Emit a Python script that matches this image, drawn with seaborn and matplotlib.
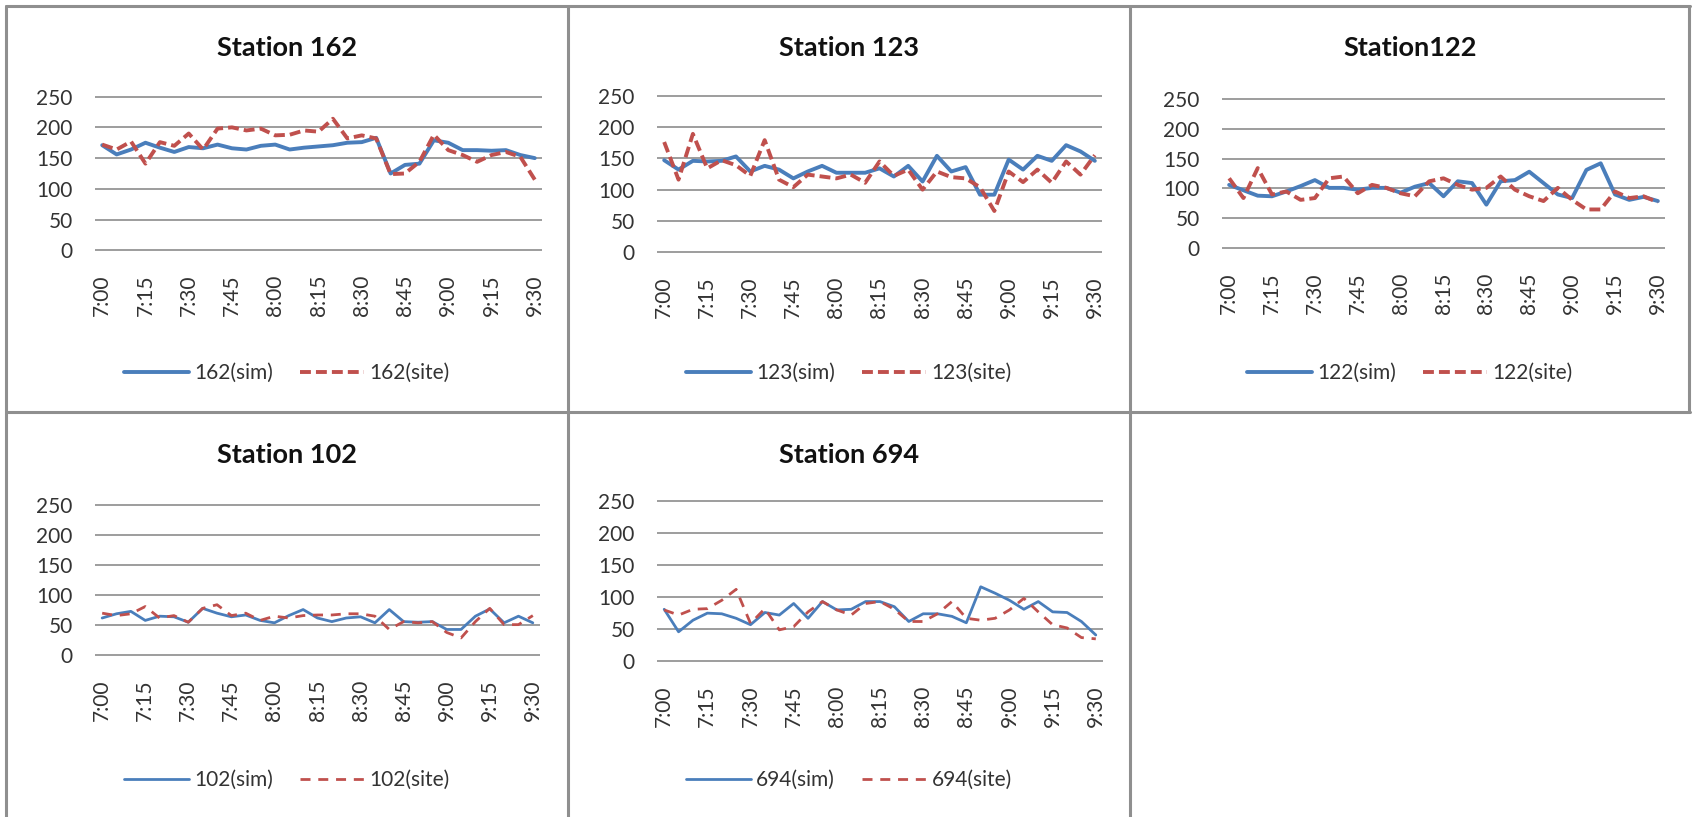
import numpy as np
import pandas as pd
import matplotlib
matplotlib.use("Agg")
import matplotlib.pyplot as plt
from matplotlib.lines import Line2D
import seaborn as sns

W, H = 1692, 817

# 5-minute slots from 7:00 to 9:30
SLOTS = np.arange(31)
TICK_POS = [0, 3, 6, 9, 12, 15, 18, 21, 24, 27, 30]
TICK_LABELS = ['7:00', '7:15', '7:30', '7:45', '8:00', '8:15',
               '8:30', '8:45', '9:00', '9:15', '9:30']
Y_TICKS = [0, 50, 100, 150, 200, 250]

STATIONS = ['162', '123', '122', '102', '694']
TITLES = ['Station 162', 'Station 123', 'Station122', 'Station 102', 'Station 694']

sim_162 = [171, 156, 164, 175, 167, 160, 168, 166, 172, 166, 164, 170, 172, 164, 167, 169,
           171, 175, 176, 183, 125, 139, 141, 179, 175, 163, 163, 162, 163, 155, 150]
site_162 = [172, 164, 177, 141, 176, 170, 190, 164, 198, 200, 195, 198, 187, 188, 195, 193,
            214, 182, 187, 182, 124, 125, 144, 188, 163, 155, 144, 155, 160, 152, 115]

sim_123 = [147, 132, 146, 145, 146, 153, 129, 138, 132, 118, 129, 138, 127, 127, 127, 134,
           121, 138, 113, 154, 129, 136, 92, 92, 148, 132, 154, 146, 171, 161, 146]
site_123 = [176, 116, 189, 134, 147, 139, 122, 179, 116, 104, 124, 121, 118, 124, 111, 145,
            122, 132, 100, 129, 120, 118, 104, 66, 129, 112, 132, 111, 145, 124, 155]

sim_122 = [106, 97, 88, 87, 95, 104, 114, 101, 101, 98, 101, 101, 93, 103, 109, 87,
           112, 109, 73, 112, 114, 128, 109, 90, 84, 131, 142, 90, 81, 86, 79]
site_122 = [117, 84, 134, 90, 95, 81, 84, 117, 120, 92, 106, 101, 92, 87, 112, 117,
            106, 98, 101, 120, 98, 87, 79, 101, 81, 65, 65, 95, 84, 87, 77]

sim_102 = [62, 69, 73, 58, 65, 64, 55, 78, 70, 64, 67, 58, 54, 66, 76, 62,
           56, 62, 64, 54, 76, 56, 55, 56, 43, 43, 65, 77, 54, 65, 54]
site_102 = [70, 66, 69, 81, 62, 66, 55, 78, 84, 66, 70, 58, 65, 62, 66, 67,
            67, 69, 69, 65, 43, 56, 54, 56, 38, 29, 56, 78, 51, 51, 66]

sim_694 = [81, 46, 64, 75, 74, 67, 57, 76, 72, 90, 67, 93, 80, 81, 93, 93,
           85, 62, 74, 74, 70, 60, 116, 106, 95, 81, 93, 77, 76, 62, 41]
site_694 = [80, 72, 81, 82, 95, 112, 59, 82, 49, 54, 77, 93, 80, 72, 90, 93,
            81, 62, 62, 74, 93, 67, 64, 67, 80, 98, 77, 57, 52, 37, 35]

SIM = [sim_162, sim_123, sim_122, sim_102, sim_694]
SITE = [site_162, site_123, site_122, site_102, site_694]

BLUE = '#4A7EBB'
RED = '#C0504D'
GRID = '#8c8c8c'
FRAME = '#8f8f8f'

# panel layout in pixels: frame box x-range, plot area (x0, y0, x1, y1), title y, legend y
PANELS = [
    dict(box=(6, 568), plot=(95, 96, 542, 251), ty=48, ly=373, lw=2.8, dash=(2.8, 1.3)),
    dict(box=(568, 1130), plot=(657, 95, 1102, 253), ty=48, ly=373, lw=2.8, dash=(2.8, 1.3)),
    dict(box=(1130, 1690), plot=(1222, 98, 1665, 249), ty=48, ly=373, lw=2.8, dash=(2.8, 1.3)),
    dict(box=(6, 568), plot=(95, 504, 540, 656), ty=455, ly=780, lw=2.0, dash=(3.6, 2.8)),
    dict(box=(568, 1130), plot=(657, 500, 1103, 662), ty=455, ly=780, lw=2.0, dash=(3.6, 2.8)),
]

sns.set_style('white')
plt.rcParams['font.family'] = ['Lato', 'DejaVu Sans']

fig = plt.figure(figsize=(W / 100, H / 100), dpi=100)
fig.patch.set_facecolor('white')


def fx(px):
    return px / W


def fy(py):
    return 1 - py / H


for st, title, sim, site, p in zip(STATIONS, TITLES, SIM, SITE, PANELS):
    x0, y0, x1, y1 = p['plot']
    ax = fig.add_axes([fx(x0), fy(y1), (x1 - x0) / W, (y1 - y0) / H])
    df = pd.DataFrame({'slot': SLOTS, 'sim': sim, 'site': site})
    sns.lineplot(data=df, x='slot', y='sim', ax=ax, color=BLUE,
                 linewidth=p['lw'], label=f'{st}(sim)')
    sns.lineplot(data=df, x='slot', y='site', ax=ax, color=RED,
                 linewidth=p['lw'], linestyle=(0, p['dash']), label=f'{st}(site)')

    ax.set_xlim(-0.5, 30.5)
    ax.set_ylim(-1, 251)
    ax.set_yticks(Y_TICKS)
    ax.set_xticks(TICK_POS)
    ax.set_xticklabels(TICK_LABELS, rotation=90)
    ax.set_xlabel('')
    ax.set_ylabel('')
    ax.grid(axis='y', color=GRID, linewidth=1.2)
    ax.grid(axis='x', visible=False)
    ax.set_axisbelow(True)
    for s in ax.spines.values():
        s.set_visible(False)
    ax.tick_params(axis='y', length=0, pad=16, labelsize=15, labelcolor='#333333')
    ax.tick_params(axis='x', length=0, pad=17, labelsize=15, labelcolor='#333333')

    handles, labels = ax.get_legend_handles_labels()
    cx = (p['box'][0] + p['box'][1]) / 2
    ax.legend(handles, labels, loc='center', bbox_to_anchor=(fx(cx), fy(p['ly'])),
              bbox_transform=fig.transFigure, ncol=2, frameon=False, fontsize=15,
              handlelength=3.1, handletextpad=0.25, columnspacing=1.3,
              labelcolor='#333333')

    fig.text(fx(cx), fy(p['ty']), title, ha='center', va='center',
             fontsize=19.5, fontweight='bold', color='#111111')

# chart frames
frame_lines = [
    ((6, 1690), (6, 6)),
    ((6, 1690), (412, 412)),
    ((6, 6), (6, 817)),
    ((568, 568), (6, 817)),
    ((1130, 1130), (6, 817)),
    ((1689, 1689), (6, 412)),
]
for xs, ys in frame_lines:
    fig.add_artist(Line2D([fx(v) for v in xs], [fy(v) for v in ys],
                          color=FRAME, linewidth=2.2, transform=fig.transFigure))

fig.savefig('out.png', dpi=100, facecolor='white')
